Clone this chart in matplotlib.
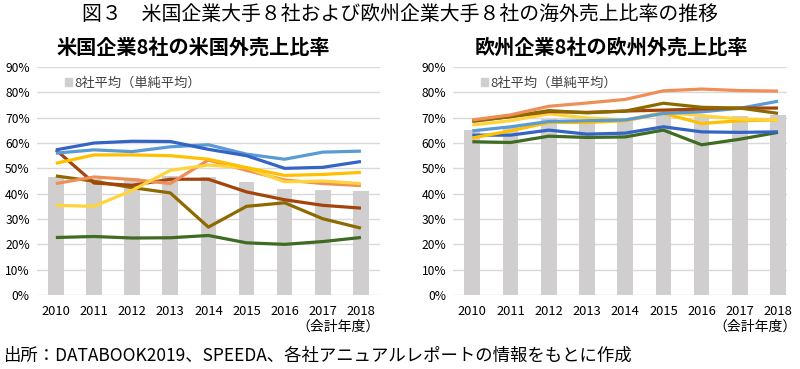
import matplotlib
matplotlib.use("Agg")
import matplotlib.pyplot as plt
from matplotlib.patches import Patch
import numpy as np

plt.rcParams['font.family'] = ['Noto Sans CJK JP', 'DejaVu Sans']

years = ['2010', '2011', '2012', '2013', '2014', '2015', '2016', '2017', '2018']

# US companies: share of sales outside the US (%)
us_avg = [46.5, 45.8, 46.0, 47.0, 46.4, 44.5, 42.0, 41.3, 41.0]
us_dark_blue = [57.3, 60.0, 60.7, 60.6, 57.5, 55.0, 50.0, 50.4, 52.7]
us_light_blue = [56.0, 57.3, 56.6, 58.5, 59.3, 55.6, 53.6, 56.4, 56.8]
us_gold = [52.0, 55.3, 55.3, 55.0, 53.6, 50.3, 47.2, 47.6, 48.4]
us_light_orange = [44.0, 46.6, 45.6, 44.0, 53.3, 49.2, 45.4, 44.0, 43.2]
us_yellow = [35.4, 35.0, 41.3, 49.2, 51.3, 50.2, 44.7, 45.0, 44.0]
us_brown = [57.3, 44.2, 43.3, 45.7, 45.7, 40.7, 37.6, 35.4, 34.3]
us_olive = [47.0, 44.9, 42.4, 40.3, 26.8, 35.0, 36.4, 30.1, 26.4]
us_green = [22.7, 23.1, 22.5, 22.6, 23.5, 20.6, 20.0, 21.1, 22.7]

# European companies: share of sales outside Europe (%)
eu_avg = [65.2, 66.9, 69.4, 69.0, 69.5, 72.0, 70.4, 70.7, 71.2]
eu_light_orange = [69.1, 71.1, 74.5, 75.8, 77.2, 80.6, 81.3, 80.7, 80.5]
eu_olive = [68.5, 70.4, 72.8, 71.9, 72.6, 75.7, 74.1, 73.8, 71.7]
eu_brown = [68.8, 70.4, 72.4, 72.1, 72.6, 73.0, 73.4, 73.8, 73.8]
eu_light_blue = [64.8, 66.4, 68.5, 68.8, 69.1, 71.7, 72.3, 73.7, 76.5]
eu_gold = [62.0, 64.8, 68.1, 68.1, 68.8, 71.7, 67.7, 68.8, 69.1]
eu_yellow = [67.1, 68.8, 71.5, 69.9, 69.1, 72.1, 70.8, 69.5, 69.1]
eu_dark_blue = [63.1, 63.1, 65.1, 63.5, 63.9, 66.4, 64.4, 64.2, 64.4]
eu_green = [60.5, 60.2, 62.7, 62.2, 62.4, 65.1, 59.3, 61.5, 64.2]

fig_title = '図３　米国企業大手８社および欧州企業大手８社の海外売上比率の推移'
left_title = '米国企業8社の米国外売上比率'
right_title = '欧州企業8社の欧州外売上比率'
legend_label = '8社平均（単純平均）'
fy_label = '（会計年度）'
source = '出所：DATABOOK2019、SPEEDA、各社アニュアルレポートの情報をもとに作成'

C = {
    'dark_blue': '#3464C4',
    'light_blue': '#5B9BD5',
    'gold': '#FFC000',
    'yellow': '#FFD43B',
    'light_orange': '#F08E58',
    'brown': '#A3440C',
    'olive': '#8C6A00',
    'green': '#3F6B22',
}
BAR = '#D0CECE'
GRID = '#D9D9D9'

fig = plt.figure(figsize=(8, 3.69), dpi=100)

def draw(ax, avg, series, xmax):
    x = np.arange(len(years))
    ax.bar(x, np.array(avg) / 100, width=0.41, color=BAR, zorder=1)
    for name, vals in series:
        ax.plot(x, np.array(vals) / 100, color=C[name], lw=2.3, zorder=3,
                solid_joinstyle='round', solid_capstyle='butt')
    ax.set_ylim(0, 0.9)
    ax.set_xlim(-0.5, xmax)
    ticks = np.arange(0, 0.91, 0.1)
    ax.set_yticks(ticks)
    ax.set_yticklabels([f'{int(round(v*100))}%' for v in ticks], fontsize=8.7)
    ax.set_xticks(x)
    ax.set_xticklabels(years, fontsize=9.3)
    ax.grid(axis='y', color=GRID, lw=1, zorder=0)
    ax.set_axisbelow(True)
    for s in ax.spines.values():
        s.set_visible(False)
    ax.tick_params(axis='y', length=0, pad=5)
    ax.tick_params(axis='x', length=0, pad=7)
    leg = ax.legend(handles=[Patch(color=BAR, label=legend_label)], loc='upper left',
                    bbox_to_anchor=(0.055, 1.0), frameon=False, fontsize=9.5,
                    handlelength=0.55, handleheight=0.55, handletextpad=0.2,
                    borderaxespad=0.3)
    for t in leg.get_texts():
        t.set_color('#404040')

axL = fig.add_axes([0.046, 0.2005, 0.429, 0.6179])
draw(axL, us_avg, [('olive', us_olive), ('green', us_green), ('brown', us_brown),
                   ('light_orange', us_light_orange), ('yellow', us_yellow),
                   ('gold', us_gold), ('light_blue', us_light_blue),
                   ('dark_blue', us_dark_blue)], 8.5)

axR = fig.add_axes([0.5665, 0.2005, 0.4175, 0.6179])
draw(axR, eu_avg, [('green', eu_green), ('dark_blue', eu_dark_blue),
                   ('gold', eu_gold), ('yellow', eu_yellow),
                   ('light_blue', eu_light_blue), ('brown', eu_brown),
                   ('olive', eu_olive), ('light_orange', eu_light_orange)], 8.24)

fig.text(380 / 800, 1 - 327 / 369, fy_label, ha='right', va='center', fontsize=10)
fig.text(797 / 800, 1 - 327 / 369, fy_label, ha='right', va='center', fontsize=10)

fig.text(0.5, 0.962, fig_title, ha='center', va='center', fontsize=14.3)
fig.text(0.241, 0.872, left_title, ha='center', va='center', fontsize=14.5, fontweight='bold')
fig.text(0.764, 0.872, right_title, ha='center', va='center', fontsize=14.5, fontweight='bold')
fig.text(0.004, 0.035, source, ha='left', va='center', fontsize=12.5)

fig.savefig('out.png', dpi=100)
